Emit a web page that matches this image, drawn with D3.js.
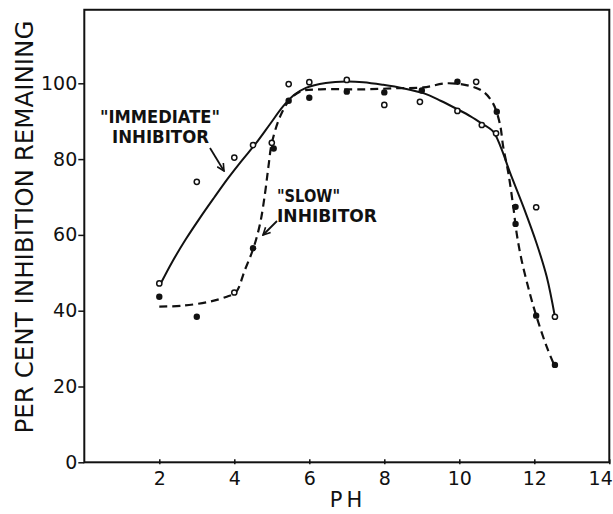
<!DOCTYPE html>
<html>
<head>
  <meta charset="utf-8">
  <script src="https://d3js.org/d3.v7.min.js"></script>
  <style type="text/css">
    body { margin: 0; background: #fff; }
    svg { display: block; }
    text { font-family: "DejaVu Sans", sans-serif; fill: #111; }
  </style>
</head>
<body>
<svg id="chart" width="613" height="514"></svg>
<script>
  // tick labels
  const xTicks = [2, 4, 6, 8, 10, 12, 14];
  const yTicks = [0, 20, 40, 60, 80, 100];

  // measured points: open circles and filled dots [pH, percent]
  const openPoints = [
    [2, 47.2], [3, 74], [4, 44.8], [4, 80.4], [4.5, 83.7], [5, 84.3],
    [5.45, 99.8], [6, 100.3], [7, 100.9], [8, 94.3], [8.95, 95.1],
    [9.95, 92.7], [10.45, 100.4], [10.6, 89], [10.98, 86.8], [12.05, 67.3], [12.55, 38.4]
  ];
  const filledPoints = [
    [2, 43.7], [3, 38.4], [4.5, 56.5], [5.05, 82.8], [5.45, 95.4], [6, 96.2],
    [7, 97.8], [8, 97.6], [9, 98.1], [9.95, 100.4], [11, 92.5],
    [11.5, 67.4], [11.5, 62.9], [12.05, 38.7], [12.55, 25.7]
  ];

  // "immediate" inhibitor curve (solid)
  const immediateCurve = [
    [2.045, 47.3], [2.34, 52.8], [2.71, 58.9], [3.085, 64.5], [3.46, 69.8], [3.83, 74.9],
    [4.2, 79.6], [4.58, 84.2], [4.95, 89.2], [5.3, 93.9], [5.59, 96.9], [5.91, 98.8],
    [6.44, 100.1], [7.0, 100.5], [7.44, 100.3], [7.97, 99.6], [8.5, 98.7], [9.04, 97.4],
    [9.5, 95.4], [9.94, 93.2], [10.3, 91.3], [10.6, 89.4], [10.9, 87.3], [11.1, 83.3],
    [11.35, 76.5], [11.71, 67.4], [12.06, 57.8], [12.33, 49], [12.55, 38.4]
  ];

  // "slow" inhibitor curve (dashed)
  const slowCurve = [
    [2.0, 41.1], [2.6, 41.3], [3.35, 42.4], [3.8, 43.7], [4.04, 44.8], [4.28, 50.7],
    [4.51, 56.5], [4.69, 63.1], [4.82, 71], [4.91, 78], [5.0, 84.2], [5.22, 91.2],
    [5.46, 95.4], [5.75, 97.8], [6.29, 98.4], [7.44, 98.4], [8.33, 98.7], [9.04, 98.9],
    [9.66, 100], [10.28, 99.3], [10.64, 97.8], [10.9, 94.7], [11.08, 89.4], [11.17, 83.3],
    [11.31, 76.2], [11.44, 67.4], [11.53, 60.4], [11.66, 53.4], [11.88, 44.6],
    [12.06, 38.4], [12.33, 30.5], [12.55, 25.2]
  ];

  const yTop = 119.4;

  const svg = d3.select('#chart');
  const x = d3.scaleLinear().domain([0, 14]).range([84.3, 609.3]);
  const y = d3.scaleLinear().domain([0, 100]).range([462.3, 83.3]);

  // frame
  svg.append('rect')
    .attr('x', x(0)).attr('y', y(yTop))
    .attr('width', x(14) - x(0)).attr('height', y(0) - y(yTop))
    .attr('fill', 'none').attr('stroke', '#111').attr('stroke-width', 2);

  // x axis
  const gx = svg.append('g')
    .attr('transform', `translate(0 ${y(0)})`)
    .call(d3.axisBottom(x).tickValues(xTicks).tickSize(3).tickPadding(6));
  gx.select('.domain').remove();
  gx.selectAll('.tick line').attr('y1', -3).attr('y2', 2).attr('stroke', '#111').attr('stroke-width', 1.5);
  gx.selectAll('.tick text').attr('font-size', 19).attr('font-family', '"DejaVu Sans", sans-serif').attr('fill', '#111');
  // last label sits on the page edge; pull it inside
  gx.selectAll('.tick text').filter(d => d === 14).attr('text-anchor', 'end').attr('x', 3);

  // y axis
  const gy = svg.append('g')
    .attr('transform', `translate(${x(0)} 0)`)
    .call(d3.axisLeft(y).tickValues(yTicks).tickSize(6).tickPadding(1));
  gy.select('.domain').remove();
  gy.selectAll('.tick line').attr('stroke', '#111').attr('stroke-width', 1.5);
  gy.selectAll('.tick text').attr('font-size', 19).attr('font-family', '"DejaVu Sans", sans-serif').attr('fill', '#111');

  // axis titles
  svg.append('text')
    .attr('x', 348).attr('y', 507)
    .attr('text-anchor', 'middle')
    .attr('font-size', 21)
    .attr('letter-spacing', 4)
    .text('PH');

  svg.append('text')
    .attr('transform', 'translate(33 227) rotate(-90)')
    .attr('text-anchor', 'middle')
    .attr('font-size', 25)
    .attr('textLength', 413)
    .attr('lengthAdjust', 'spacingAndGlyphs')
    .text('PER CENT INHIBITION REMAINING');

  // curves
  const line = d3.line()
    .x(d => x(d[0]))
    .y(d => y(d[1]))
    .curve(d3.curveCatmullRom.alpha(0.5));

  svg.append('path')
    .datum(immediateCurve)
    .attr('fill', 'none').attr('stroke', '#111').attr('stroke-width', 2)
    .attr('d', line);

  svg.append('path')
    .datum(slowCurve)
    .attr('fill', 'none').attr('stroke', '#111').attr('stroke-width', 2.2)
    .attr('stroke-dasharray', '8,5')
    .attr('d', line);

  // points
  svg.append('g').selectAll('circle')
    .data(openPoints).join('circle')
    .attr('cx', d => x(d[0])).attr('cy', d => y(d[1]))
    .attr('r', 2.6)
    .attr('fill', '#fff').attr('stroke', '#111').attr('stroke-width', 1.5);

  svg.append('g').selectAll('circle')
    .data(filledPoints).join('circle')
    .attr('cx', d => x(d[0])).attr('cy', d => y(d[1]))
    .attr('r', 3.2)
    .attr('fill', '#111');

  // annotations
  svg.append('defs').append('marker')
    .attr('id', 'head')
    .attr('viewBox', '0 0 10 10')
    .attr('refX', 9).attr('refY', 5)
    .attr('markerWidth', 9).attr('markerHeight', 9)
    .attr('markerUnits', 'userSpaceOnUse')
    .attr('orient', 'auto')
    .append('path')
    .attr('d', 'M1,1 L9,5 L1,9')
    .attr('fill', 'none').attr('stroke', '#111').attr('stroke-width', 1.8);

  const notes = [
    { lines: ['"IMMEDIATE"', 'INHIBITOR'], x: 100, y: 123, w: [120, 97], dx: 12,
      arrow: [[210, 148], [224, 171]] },
    { lines: ['"SLOW"', 'INHIBITOR'], x: 277, y: 201.5, w: [63, 100], dx: 0,
      arrow: [[277, 221], [263, 235]] }
  ];

  notes.forEach(n => {
    n.lines.forEach((t, i) => {
      svg.append('text')
        .attr('x', n.x + (i ? n.dx : 0)).attr('y', n.y + i * 20)
        .attr('font-size', 18).attr('font-weight', 'bold')
        .attr('textLength', n.w[i]).attr('lengthAdjust', 'spacingAndGlyphs')
        .text(t);
    });
    svg.append('line')
      .attr('x1', n.arrow[0][0]).attr('y1', n.arrow[0][1])
      .attr('x2', n.arrow[1][0]).attr('y2', n.arrow[1][1])
      .attr('stroke', '#111').attr('stroke-width', 1.8)
      .attr('marker-end', 'url(#head)');
  });
</script>
</body>
</html>
